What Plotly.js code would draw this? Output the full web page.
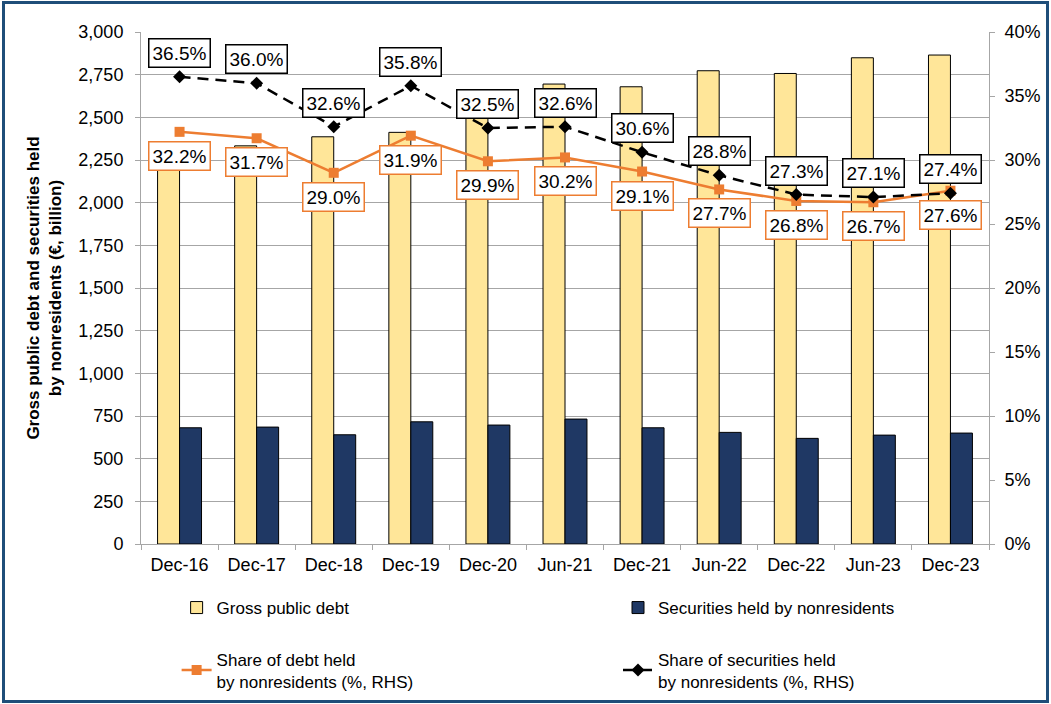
<!DOCTYPE html>
<html>
<head>
<meta charset="utf-8">
<script src="https://cdn.plot.ly/plotly-3.0.1.min.js"></script>
<style>
  html, body { margin: 0; padding: 0; background: #ffffff; }
  #wrap { position: relative; width: 1051px; height: 704px; }
  #chart { position: absolute; left: 0; top: 0; width: 1051px; height: 704px; }
  #frame { position: absolute; left: 2px; top: 1px; width: 1041px; height: 696px;
           border: 3px solid #1F4E79; pointer-events: none; }
</style>
</head>
<body>
<div id="wrap">
  <div id="chart"></div>
  <div id="frame"></div>
</div>
<script>
// ---- data ----
const categories = ["Dec-16", "Dec-17", "Dec-18", "Dec-19", "Dec-20", "Jun-21",
                    "Dec-21", "Jun-22", "Dec-22", "Jun-23", "Dec-23"];
const grossPublicDebt = [2260, 2333, 2386, 2412, 2570, 2695, 2679, 2773, 2757, 2849, 2865];
const securitiesNonres = [681, 685, 640, 716, 697, 732, 681, 654, 619, 638, 650];
const shareDebtNonres = [32.2, 31.7, 29.0, 31.9, 29.9, 30.2, 29.1, 27.7, 26.8, 26.7, 27.6];
const shareSecNonres = [36.5, 36.0, 32.6, 35.8, 32.5, 32.6, 30.6, 28.8, 27.3, 27.1, 27.4];
const leftTicks = [0, 250, 500, 750, 1000, 1250, 1500, 1750, 2000, 2250, 2500, 2750, 3000];
const rightTicks = [0, 5, 10, 15, 20, 25, 30, 35, 40];
const rightTickLabels = ["0%", "5%", "10%", "15%", "20%", "25%", "30%", "35%", "40%"];

const FONT = "Liberation Sans, Arial, Helvetica, sans-serif";
const ORANGE = "#ED7D31";

const traces = [
  { type: "bar", name: "Gross public debt", x: categories, y: grossPublicDebt,
    marker: { color: "#FFE699", line: { color: "#000000", width: 1 } },
    legend: "legend", hoverinfo: "skip" },
  { type: "bar", name: "Securities held by nonresidents", x: categories, y: securitiesNonres,
    marker: { color: "#1F3864", line: { color: "#000000", width: 1 } },
    legend: "legend2", hoverinfo: "skip" },
  { type: "scatter", mode: "lines+markers", name: "Share of debt held<br>by nonresidents (%, RHS)",
    x: categories, y: shareDebtNonres, yaxis: "y2",
    line: { color: ORANGE, width: 2.5 },
    marker: { symbol: "square", size: 10, color: ORANGE },
    legend: "legend3", hoverinfo: "skip" },
  { type: "scatter", mode: "lines+markers", name: "Share of securities held<br>by nonresidents (%, RHS)",
    x: categories, y: shareSecNonres, yaxis: "y2",
    line: { color: "#000000", width: 2.5, dash: "11px,7px" },
    marker: { symbol: "diamond", size: 10, color: "#000000" },
    legend: "legend4", hoverinfo: "skip" }
];

const annotations = [];
categories.forEach((c, i) => {
  annotations.push({
    x: c, y: shareSecNonres[i], xref: "x", yref: "y2",
    text: shareSecNonres[i].toFixed(1) + "%", showarrow: false,
    yanchor: "bottom", yshift: 9,
    font: { family: FONT, size: 19, color: "#000000" },
    bgcolor: "#ffffff", bordercolor: "#000000", borderwidth: 1.5, borderpad: 3
  });
  annotations.push({
    x: c, y: shareDebtNonres[i], xref: "x", yref: "y2",
    text: shareDebtNonres[i].toFixed(1) + "%", showarrow: false,
    yanchor: "top", yshift: -9,
    font: { family: FONT, size: 19, color: "#000000" },
    bgcolor: "#ffffff", bordercolor: ORANGE, borderwidth: 1.5, borderpad: 3
  });
});

const legendBase = {
  orientation: "v", bgcolor: "rgba(0,0,0,0)", borderwidth: 0,
  font: { family: FONT, size: 17, color: "#000000" },
  xanchor: "left", yanchor: "middle", itemclick: false, itemdoubleclick: false,
  tracegroupgap: 0
};

const layout = {
  width: 1051, height: 704,
  margin: { l: 141, r: 62, t: 32, b: 160, autoexpand: false },
  paper_bgcolor: "#ffffff", plot_bgcolor: "#ffffff",
  font: { family: FONT, size: 18, color: "#000000" },
  barmode: "group", bargap: 0.43, bargroupgap: 0,
  showlegend: true,
  legend: Object.assign({}, legendBase, { x: 0.042, y: -0.125 }),
  legend2: Object.assign({}, legendBase, { x: 0.5625, y: -0.125 }),
  legend3: Object.assign({}, legendBase, { x: 0.042, y: -0.247 }),
  legend4: Object.assign({}, legendBase, { x: 0.5625, y: -0.247 }),
  xaxis: {
    type: "category", range: [-0.5, categories.length - 0.5], autorange: false,
    showline: true, linecolor: "#A6A6A6", linewidth: 1,
    ticks: "outside", tickson: "boundaries", ticklen: 5, tickcolor: "#A6A6A6",
    ticklabelstandoff: 4,
    showgrid: false, tickfont: { family: FONT, size: 18, color: "#000000" },
    automargin: false, fixedrange: true
  },
  yaxis: {
    range: [0, 3000], autorange: false, tickvals: leftTicks, tickformat: ",d",
    showline: true, linecolor: "#A6A6A6", linewidth: 1,
    ticks: "outside", ticklen: 5, tickcolor: "#A6A6A6", ticklabelstandoff: 8,
    showgrid: true, gridcolor: "#A6A6A6", gridwidth: 1, zeroline: false,
    tickfont: { family: FONT, size: 18, color: "#000000" },
    title: { text: "<b>Gross public debt and securities held<br>by nonresidents (€, billion)</b>",
             font: { family: FONT, size: 17, color: "#000000" }, standoff: 12 },
    automargin: false, fixedrange: true
  },
  yaxis2: {
    overlaying: "y", side: "right", range: [0, 40], autorange: false,
    tickmode: "array", tickvals: rightTicks, ticktext: rightTickLabels,
    showline: true, linecolor: "#A6A6A6", linewidth: 1,
    ticks: "outside", ticklen: 5, tickcolor: "#A6A6A6", ticklabelstandoff: 6,
    showgrid: false, zeroline: false,
    tickfont: { family: FONT, size: 18, color: "#000000" },
    automargin: false, fixedrange: true
  },
  annotations: annotations
};

Plotly.newPlot("chart", traces, layout, { displayModeBar: false, staticPlot: true });
</script>
</body>
</html>
